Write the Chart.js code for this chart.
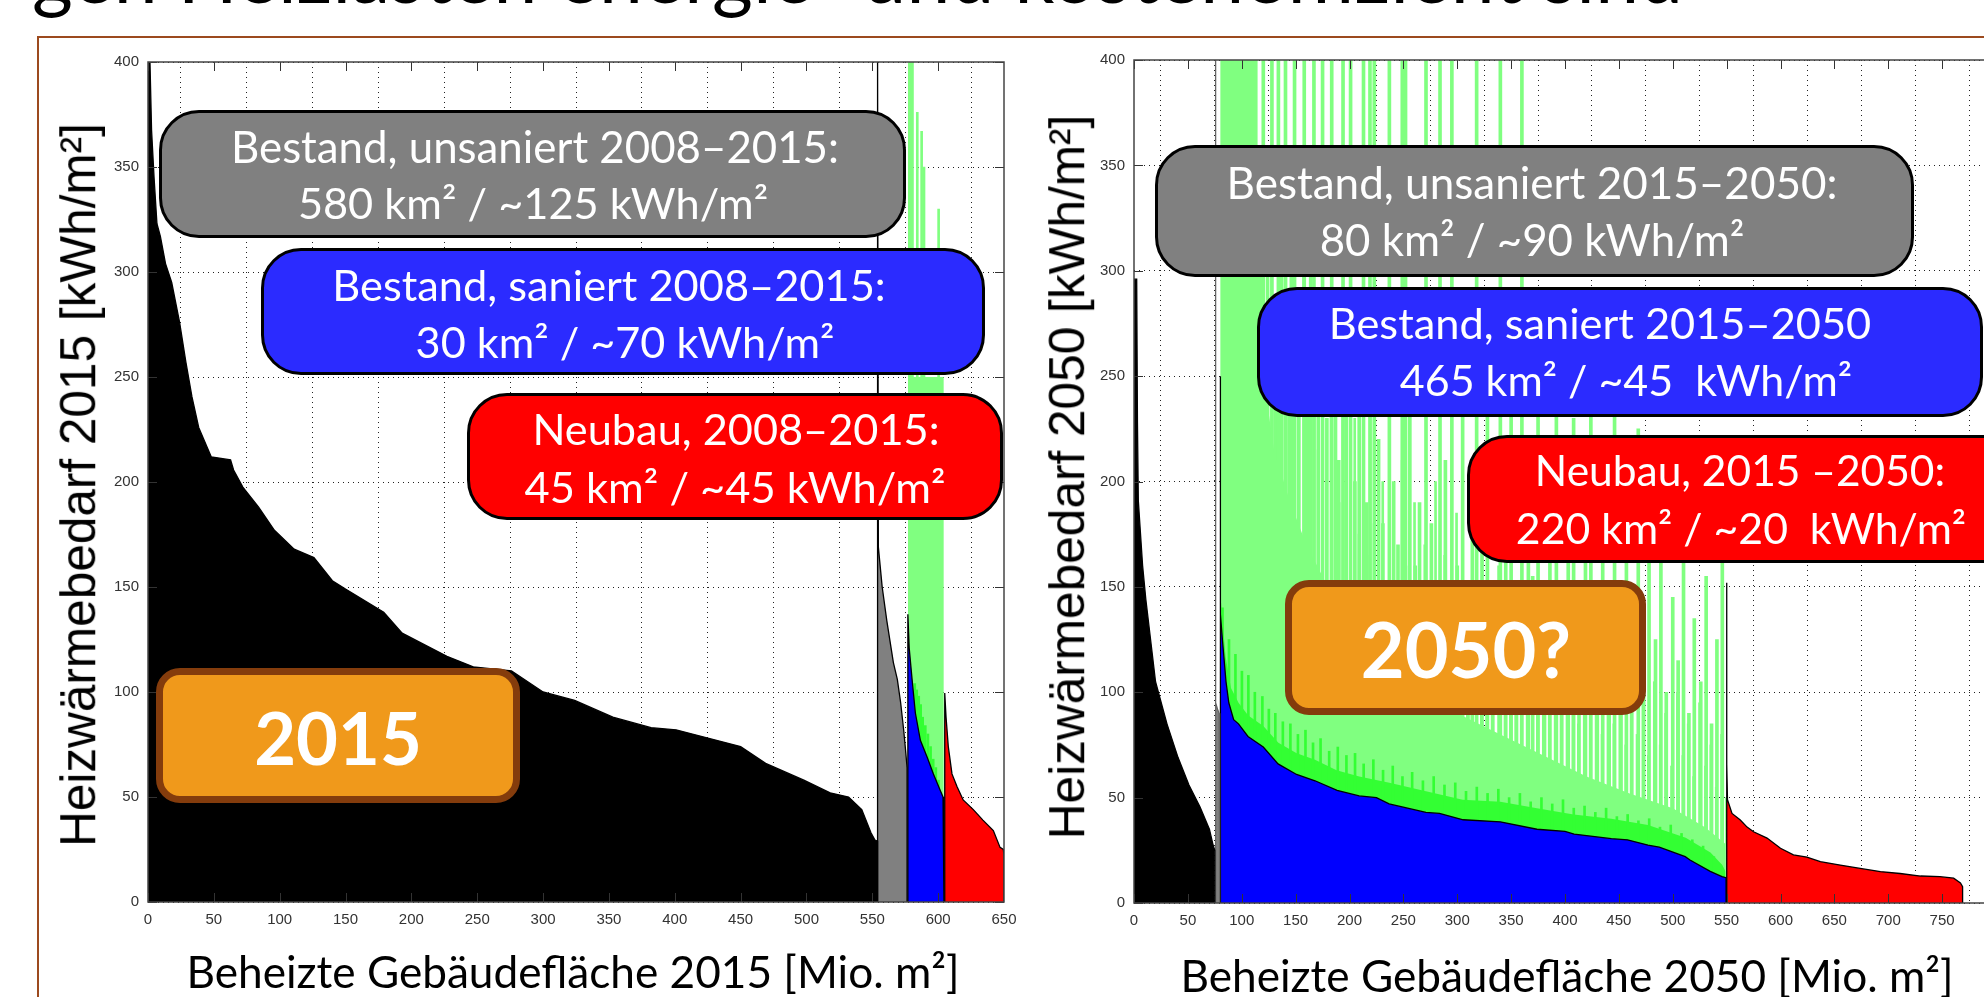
<!DOCTYPE html>
<html lang="de">
<head>
<meta charset="utf-8">
<title>Heizwärmebedarf 2015 / 2050</title>
<script src="https://cdn.jsdelivr.net/npm/chart.js@4.4.1/dist/chart.umd.min.js"></script>
<style>
  html, body { margin: 0; padding: 0; background: #fff; width: 1984px; height: 997px; overflow: hidden; }
  body { position: relative; }
  canvas { position: absolute; }
  .frame { position: absolute; left: 37px; top: 36px; width: 2000px; height: 1000px;
           border-top: 2px solid #9C4A1E; border-left: 2px solid #9C4A1E; }
  .box { position: absolute; box-sizing: border-box; border: 3px solid #000; border-radius: 40px; }
  .ob { position: absolute; box-sizing: border-box; border: 7px solid #843C0C; border-radius: 24px; background: #F0991B; }
  .t { position: absolute; white-space: nowrap; line-height: 1; transform: translate(-50%, -50%);
       color: #fff; font-family: Lato, "Open Sans", sans-serif; font-size: 40px; }
  .big { font-weight: 700; font-size: 80px; }
  .xt { color: #000; }
  .yt { color: #000; font-family: "Liberation Sans", Arial, sans-serif; font-size: 50px;
        transform: translate(-50%, -50%) rotate(-90deg); }
  svg { position: absolute; left: 0; top: 0; }
</style>
</head>
<body>
<div class="frame"></div>
<svg width="1984" height="40"><text id="titel" x="32" y="3" font-family="Lato, Open Sans, sans-serif" font-size="72" fill="#000">gen Heizlasten energie- und kosteneffizient sind</text></svg>

<canvas id="c2015" width="950" height="930" style="left:90px;top:30px"></canvas>
<canvas id="c2050" width="960" height="930" style="left:1080px;top:30px"></canvas>

<!-- linke Grafik: Kästen -->
<div class="box" style="left:159px;top:110px;width:747px;height:128px;background:#808080"></div>
<div class="box" style="left:261px;top:248px;width:724px;height:127px;background:#2B2BFF"></div>
<div class="box" style="left:467px;top:393px;width:536px;height:127px;background:#FF0000"></div>
<div class="ob" style="left:156px;top:668px;width:364px;height:135px"></div>
<span class="t" data-w="608" style="left:535px;top:147px">Bestand, unsaniert 2008–2015:</span>
<span class="t" data-w="470" style="left:533px;top:203px">580 km² / ~125 kWh/m²</span>
<span class="t" data-w="553" style="left:609px;top:285px">Bestand, saniert 2008–2015:</span>
<span class="t" data-w="419" style="left:625px;top:342px">30 km² / ~70 kWh/m²</span>
<span class="t" data-w="407" style="left:736px;top:429px">Neubau, 2008–2015:</span>
<span class="t" data-w="421" style="left:735px;top:487px">45 km² / ~45 kWh/m²</span>
<span class="t big" data-w="168" style="left:338px;top:737px">2015</span>

<!-- rechte Grafik: Kästen -->
<div class="box" style="left:1155px;top:145px;width:759px;height:132px;background:#808080"></div>
<div class="box" style="left:1257px;top:287px;width:726px;height:130px;background:#2B2BFF"></div>
<div class="box" style="left:1467px;top:435px;width:560px;height:128px;background:#FF0000"></div>
<div class="ob" style="left:1285px;top:580px;width:361px;height:135px"></div>
<span class="t" data-w="611" style="left:1532px;top:182px">Bestand, unsaniert 2015–2050:</span>
<span class="t" data-w="425" style="left:1532px;top:240px">80 km² / ~90 kWh/m²</span>
<span class="t" data-w="542" style="left:1600px;top:323px">Bestand, saniert 2015–2050</span>
<span class="t" data-w="452" style="left:1626px;top:380px">465 km² / ~45&nbsp;&nbsp;kWh/m²</span>
<span class="t" data-w="410" style="left:1740px;top:470px">Neubau, 2015 –2050:</span>
<span class="t" data-w="450" style="left:1741px;top:528px">220 km² / ~20&nbsp;&nbsp;kWh/m²</span>
<span class="t big" data-w="210" style="left:1466px;top:649px">2050?</span>

<!-- Achsentitel -->
<span class="t yt" data-w="724" style="left:78px;top:485px">Heizwärmebedarf 2015 [kWh/m²]</span>
<span class="t yt" data-w="725" style="left:1068px;top:477px">Heizwärmebedarf 2050 [kWh/m²]</span>
<span class="t xt" data-w="773" style="left:573px;top:971px">Beheizte Gebäudefläche 2015 [Mio. m²]</span>
<span class="t xt" data-w="773" style="left:1567px;top:975px">Beheizte Gebäudefläche 2050 [Mio. m²]</span>

<script>
// ---------- 2015 ----------
const xMax2015 = 650;
const schwarz2015X = [0, 0, 1.5, 2.7, 4.6, 6.8, 9.4, 13.3, 18, 24, 28.8, 33.4, 38.5, 48, 62.7, 65, 72, 84, 96, 111, 126, 140, 150, 179, 193, 227, 247, 276, 300, 324, 353, 382, 401, 450, 469, 498, 518, 532, 542, 549, 552, 554, 554];
const schwarz2015Y = [0, 400, 400, 367.6, 345, 323, 317, 304, 295, 276, 257, 240.5, 226, 212, 210.5, 205.7, 197.6, 188, 177, 168, 164, 153, 149, 138, 128, 117, 112, 110, 100, 96, 88, 83, 82, 74, 66, 58, 52, 50, 44, 33, 29.5, 29, 0];
const grau2015X = [554, 554, 554.6, 557.5, 561, 566, 569, 571.5, 573.8, 575.3, 576.4, 576.4];
const grau2015Y = [0, 400, 169, 150, 134, 114, 106, 95, 82, 72, 64, 0];
const blau2015X = [577, 577, 578, 580.2, 582.7, 586.5, 591.6, 596.4, 601.7, 603.7, 604.4, 604.4];
const blau2015Y = [0, 137, 121, 106, 90, 77, 69, 61, 53, 50, 48, 0];
const rot2015X = [605, 605, 606, 607.7, 610.5, 614.3, 619, 626.7, 634, 641.9, 647, 649.5, 650, 650];
const rot2015Y = [0, 99.5, 88, 74, 61, 55, 48.6, 44, 39, 34, 26, 25, 22, 0];
const gruen2015X = [577, 577, 581.5, 581.5, 604.3, 604.3];
const gruen2015Y = [0, 400, 400, 250, 250, 0];
const spitzen2015X = [583.4, 586.7, 588.5, 599.6];
const spitzen2015Y = [376, 367, 350, 330];
const hell2015X = [583, 584.5, 586, 587.5, 589, 591, 593, 595, 597, 599, 601];
const hell2015Y = [104, 101, 98, 94, 88, 84, 80, 74, 68, 64, 58];

// ---------- 2050 ----------
const xMax2050 = 800;
const schwarz2050X = [0, 0, 2.5, 3.2, 4, 8, 11, 20, 30.6, 40.9, 51, 61.3, 70, 73.4, 75, 75];
const schwarz2050Y = [0, 296, 296, 228, 191, 160, 144, 105, 85, 69, 56, 45.5, 35, 27.5, 25, 0];
const grau2050X = [75.5, 75.5, 76, 77.5, 79, 79.5, 79.5];
const grau2050Y = [0, 400, 95, 92, 90, 88, 0];
const blau2050X = [80, 80, 80.4, 82.2, 85.4, 88, 92.5, 97, 105.8, 120, 133.7, 150.9, 168, 188.5, 209, 225, 236.8, 271, 283.5, 305.5, 340, 374, 400, 408.5, 443, 458, 477, 487.5, 511.6, 516, 534.8, 545.7, 549.5, 549.5];
const blau2050Y = [0, 250, 137, 124, 105, 95, 87, 85, 79, 74, 66, 61, 58, 53.4, 50.8, 50, 47, 43, 42.5, 39.5, 38.5, 35, 34, 32.7, 30.5, 30, 27.5, 26.5, 22, 20.4, 15, 12.5, 12, 0];
const rot2050X = [550, 550, 550.2, 550.8, 555, 562.7, 569, 575, 587.5, 600, 612, 624.5, 637, 655.5, 674, 692.7, 711, 730, 748, 760.7, 767, 769, 769];
const rot2050Y = [0, 152, 66, 49, 42.5, 39.4, 36, 33.8, 30.8, 26, 22.8, 21.8, 19.6, 18, 16.4, 14.9, 14, 12.8, 12.5, 11.8, 9.5, 7.7, 0];
const gruen2050X = [80, 80, 112, 114, 120, 130, 145, 160, 180, 200, 230, 260, 300, 340, 380, 420, 460, 500, 530, 549, 549];
const gruen2050Y = [0, 400, 400, 300, 250, 215, 190, 170, 150, 135, 118, 105, 90, 80, 70, 60, 52, 45, 36, 28, 0];
// hohe Einzelspitzen
const spitzen2050X = [113, 115, 117, 120, 124, 128, 131, 134, 137, 140.6, 144, 146, 149, 153, 158, 161, 164, 167, 171, 175, 179, 183.5, 187, 190, 194, 197, 201, 205, 209, 213, 216, 219, 223, 227, 231, 237, 241, 245, 249, 252, 256, 261, 265, 271, 276, 280, 284, 289, 295, 300, 305, 310, 314, 318, 323, 328, 333, 340, 345, 350, 355, 360, 366, 370, 375, 381, 386, 392, 397, 403, 408, 413, 419, 424, 430, 435, 441, 446, 452, 457, 462, 468, 473, 478, 484, 489, 494, 500, 505, 510, 515, 520, 526, 531, 536, 541, 546];
const spitzen2050Y = [400, 330, 290, 400, 310, 400, 270, 400, 350, 400, 260, 320, 400, 290, 400, 240, 320, 400, 260, 400, 230, 400, 270, 210, 400, 240, 400, 200, 270, 400, 190, 400, 400, 220, 180, 400, 200, 170, 400, 400, 240, 160, 190, 400, 180, 150, 400, 210, 400, 160, 270, 140, 190, 400, 170, 260, 145, 400, 180, 285, 135, 400, 210, 155, 270, 135, 195, 245, 125, 175, 230, 120, 165, 290, 115, 205, 145, 235, 110, 185, 135, 225, 105, 165, 125, 195, 100, 145, 115, 175, 90, 135, 105, 155, 85, 125, 185];
// mittlere Spitzen dazwischen
const mittel2050X = [114, 116, 118.5, 122, 126, 129.5, 132.5, 135.5, 139, 142, 145, 147.5, 151, 155.5, 159.5, 162.5, 165.5, 169, 173, 177, 181, 185, 188.5, 192, 195.5, 199, 203, 207, 211, 214.5, 217.5, 221, 225, 229, 234, 239, 243, 247, 250.5, 254, 258.5, 263, 268, 273.5, 278, 282, 286.5, 292, 297.5, 302.5, 307.5, 312, 316, 320.5, 325.5, 330.5, 336.5, 342.5, 347.5, 352.5, 357.5, 363, 368, 372.5, 378, 383.5, 389, 394.5, 400, 405.5, 410.5, 416, 421.5, 427, 432.5, 438, 443.5, 449, 454.5, 459.5, 465, 470.5, 475.5, 481, 486.5, 491.5, 497, 502.5, 507.5, 512.5, 517.5, 523, 528.5, 533.5, 538.5, 543.5, 548];
const mittel2050Y = [350, 300, 380, 290, 340, 260, 310, 280, 330, 250, 290, 270, 240, 300, 230, 260, 280, 215, 250, 200, 270, 220, 190, 240, 205, 180, 230, 175, 210, 165, 240, 180, 160, 200, 150, 185, 145, 210, 160, 140, 190, 135, 170, 130, 200, 125, 165, 135, 185, 120, 150, 115, 170, 120, 140, 110, 160, 105, 130, 100, 150, 110, 95, 135, 100, 120, 90, 140, 95, 115, 85, 130, 90, 105, 80, 120, 85, 100, 75, 115, 80, 95, 70, 105, 75, 90, 65, 100, 70, 85, 60, 95, 65, 75, 55, 80, 50];
// hellgrünes Band über "saniert"
const hell2050X = [80.4, 80.4, 82, 85, 90, 97, 106, 120, 134, 151, 168, 188, 209, 237, 271, 305, 340, 374, 408, 443, 477, 512, 535, 546, 549, 549];
const hell2050Y = [0, 145, 135, 117, 102, 95, 89, 84, 76, 71, 68, 63, 60, 57, 53, 49, 48, 45, 42, 40, 37, 31, 24, 18, 15, 0];
const hellSpitzen2050X = [84, 90, 96, 102, 108, 114, 121, 127, 133, 140, 147, 154, 161, 168, 175, 183, 191, 199, 207, 215, 224, 233, 242, 251, 260, 270, 280, 290, 300, 310, 320, 330, 340, 350, 360, 370, 380, 390, 400, 410, 420, 430, 440, 450, 460, 470, 480, 490, 500, 510, 520, 530, 540, 546];
const hellSpitzen2050Y = [140, 125, 118, 110, 108, 100, 98, 92, 90, 86, 85, 80, 82, 76, 78, 72, 74, 70, 71, 66, 68, 63, 65, 60, 62, 58, 60, 56, 57, 53, 55, 52, 54, 50, 52, 48, 50, 47, 49, 45, 46, 43, 45, 41, 42, 39, 40, 36, 37, 33, 30, 27, 22, 18];

const yMax = 400;
const tickStep = 50;

function pts(xs, ys) {
    return xs.map((x, i) => ({ x: x, y: ys[i] }));
}

function flaeche(xs, ys, farbe, rand, reihe) {
    return {
        type: 'line',
        data: pts(xs, ys),
        backgroundColor: farbe,
        borderColor: rand,
        borderWidth: rand ? 1.3 : 0,
        fill: 'origin',
        pointRadius: 0,
        tension: 0,
        order: reihe
    };
}

function spitzen(xs, ys, farbe, breite, reihe) {
    return {
        type: 'bar',
        data: pts(xs, ys),
        backgroundColor: farbe,
        borderWidth: 0,
        barThickness: breite,
        order: reihe
    };
}

// MATLAB-artiger Rahmen mit Ticks nach innen
const rahmen = {
    id: 'rahmen',
    afterDatasetsDraw(chart) {
        const { ctx, chartArea: a, scales: { x, y } } = chart;
        ctx.save();
        ctx.strokeStyle = '#333';
        ctx.lineWidth = 1;
        ctx.beginPath();
        x.ticks.forEach(t => {
            const px = Math.round(x.getPixelForValue(t.value)) + 0.5;
            if (px > a.right) return;
            ctx.moveTo(px, a.bottom); ctx.lineTo(px, a.bottom - 9);
            ctx.moveTo(px, a.top); ctx.lineTo(px, a.top + 9);
        });
        y.ticks.forEach(t => {
            const py = Math.round(y.getPixelForValue(t.value)) + 0.5;
            ctx.moveTo(a.left, py); ctx.lineTo(a.left + 9, py);
            ctx.moveTo(a.right, py); ctx.lineTo(a.right - 9, py);
        });
        ctx.stroke();
        ctx.lineWidth = 1.5;
        ctx.strokeStyle = '#444';
        ctx.strokeRect(a.left, a.top, a.width, a.height);
        ctx.restore();
    }
};

function grafik(id, xMax, achsBreite, achsHoehe, pad, datasets) {
    const tickFont = { family: "'Liberation Sans Narrow', 'Liberation Sans', Arial, sans-serif", size: 15 };
    return new Chart(document.getElementById(id), {
        type: 'line',
        data: { datasets: datasets },
        options: {
            responsive: false,
            animation: false,
            events: [],
            layout: { padding: pad },
            plugins: { legend: { display: false }, tooltip: { enabled: false } },
            scales: {
                x: {
                    type: 'linear', min: 0, max: xMax, offset: false,
                    ticks: { stepSize: tickStep, autoSkip: false, maxRotation: 0, padding: 9, color: '#333', font: tickFont },
                    grid: { color: '#222', lineWidth: 1, drawTicks: false },
                    border: { display: false, dash: [1, 4] },
                    afterFit(s) { s.height = achsHoehe; }
                },
                y: {
                    min: 0, max: yMax,
                    ticks: { stepSize: tickStep, padding: 9, color: '#333', font: tickFont },
                    grid: { color: '#222', lineWidth: 1, drawTicks: false },
                    border: { display: false, dash: [1, 4] },
                    afterFit(s) { s.width = achsBreite; }
                }
            }
        },
        plugins: [rahmen]
    });
}

grafik('c2015', xMax2015, 58, 58, { top: 32, right: 36, left: 0, bottom: 0 }, [
    flaeche(schwarz2015X, schwarz2015Y, '#000000', '#000', 1),
    flaeche(grau2015X, grau2015Y, '#808080', '#000', 1),
    flaeche(blau2015X, blau2015Y, '#0000FF', '#000', 1),
    flaeche(rot2015X, rot2015Y, '#FF0000', '#000', 1),
    spitzen(hell2015X, hell2015Y, '#33FF33', 2, 4),
    spitzen(spitzen2015X, spitzen2015Y, '#80FF80', 2, 5),
    flaeche(gruen2015X, gruen2015Y, '#80FF80', null, 6)
]);

grafik('c2050', xMax2050, 54, 57, { top: 30, right: 44, left: 0, bottom: 0 }, [
    flaeche(schwarz2050X, schwarz2050Y, '#000000', '#000', 1),
    flaeche(grau2050X, grau2050Y, '#808080', '#666', 1),
    flaeche(blau2050X, blau2050Y, '#0000FF', '#000', 1),
    flaeche(rot2050X, rot2050Y, '#FF0000', '#000', 1),
    spitzen(hellSpitzen2050X, hellSpitzen2050Y, '#33FF33', 2, 3),
    flaeche(hell2050X, hell2050Y, '#33FF33', null, 4),
    spitzen(spitzen2050X, spitzen2050Y, '#80FF80', 3, 5),
    spitzen(mittel2050X, mittel2050Y, '#80FF80', 2, 5),
    flaeche(gruen2050X, gruen2050Y, '#80FF80', null, 6)
]);

// Schriftgrößen an die Textbreiten anpassen
document.querySelectorAll('[data-w]').forEach(el => {
    const fs = parseFloat(getComputedStyle(el).fontSize);
    el.style.fontSize = (fs * Number(el.dataset.w) / el.offsetWidth).toFixed(2) + 'px';
});
const titel = document.getElementById('titel');
titel.setAttribute('font-size', (72 * 1651 / titel.getComputedTextLength()).toFixed(1));
</script>
</body>
</html>
